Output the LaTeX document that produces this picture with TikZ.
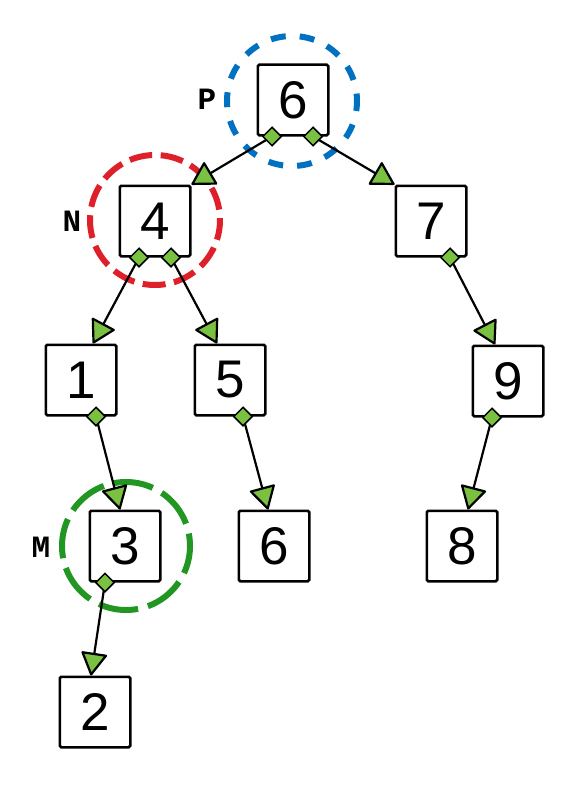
\documentclass[tikz,border=0pt]{standalone}
\usepackage{fontspec}
\setmainfont{Liberation Sans}
\newfontfamily\tagfont{Liberation Mono}
\usetikzlibrary{arrows.meta,calc}

\definecolor{leaf}{RGB}{122,193,66}
\definecolor{ringblue}{RGB}{0,112,192}
\definecolor{ringred}{RGB}{222,32,42}
\definecolor{ringgreen}{RGB}{34,150,34}

\tikzset{
  keybox/.style={draw, fill=white, line width=2.5pt, rounded corners=1.5pt,
    minimum width=70.5pt, minimum height=70.5pt, inner sep=0pt,
    font=\fontsize{53}{53}\selectfont},
  knob/.style={draw, fill=leaf, line width=1.5pt, rectangle, rotate=45,
    minimum size=13pt, inner sep=0pt},
  link/.style={line width=2.2pt, line cap=round,
    -{Triangle[length=24pt,width=27pt,fill=leaf,round]}},
  tag/.style={font=\tagfont\bfseries\fontsize{31}{31}\selectfont, inner sep=0pt},
  ring/.style={line width=6pt},
}

\begin{document}
\begin{tikzpicture}[x=1pt,y=-1pt]
\useasboundingbox (0,0) rectangle (571,789);

% highlight rings
\draw[ring, ringblue, dash pattern=on 15pt off 14pt, dash phase=5pt] (292,101) circle[radius=65];
\draw[ring, ringred, dash pattern=on 23pt off 8.5pt, dash phase=3pt] (155,220) circle[radius=65];
\draw[ring, ringgreen, dash pattern=on 40pt off 10.2pt, dash phase=12pt] (126,546) circle[radius=64];

% tree keys
\node[keybox] (r6) at (293,100) {6};
\node[keybox] (n4) at (155,221) {4};
\node[keybox] (n7) at (431,221) {7};
\node[keybox] (n1) at (81,380) {1};
\node[keybox] (n5) at (230,380) {5};
\node[keybox] (n9) at (508,381) {9};
\node[keybox] (n3) at (125,546) {3};
\node[keybox] (n6b) at (274,546) {6};
\node[keybox] (n8) at (462,546) {8};
\node[keybox] (n2) at (95,712) {2};

% pointer labels
\node[tag] (lp) at (207,99) {P};
\node[tag] (ln) at (72,221) {N};
\node[tag] (lm) at (41,547) {M};

% child pointer sockets
\coordinate (r6l) at ($(r6.south)+(-21,0)$);
\coordinate (r6r) at ($(r6.south)+(20,0)$);
\coordinate (n4l) at ($(n4.south)+(-16,0)$);
\coordinate (n4r) at ($(n4.south)+(16,0)$);
\coordinate (n7r) at ($(n7.south)+(19,0)$);
\coordinate (n1r) at ($(n1.south)+(15,0)$);
\coordinate (n5r) at ($(n5.south)+(13,0)$);
\coordinate (n9l) at ($(n9.south)+(-16,0)$);
\coordinate (n3l) at ($(n3.south)+(-20,0)$);

% arrow targets on the children
\coordinate (n4in) at (n4.north east);
\coordinate (n7in) at (n7.north west);
\coordinate (n1in) at ($(n1.north)+(12,0)$);
\coordinate (n5in) at ($(n5.north)+(-13,0)$);
\coordinate (n9in) at ($(n9.north)+(-13,0)$);
\coordinate (n3in) at ($(n3.north)+(-5,0)$);
\coordinate (n6bin) at ($(n6b.north)+(-6,0)$);
\coordinate (n8in) at ($(n8.north)+(6,0)$);
\coordinate (n2in) at ($(n2.north)+(-4,0)$);

% edges
\draw[link] (r6l) -- (n4in);
\draw[link] (r6r) -- (n7in);
\draw[link] (n4l) -- (n1in);
\draw[link] (n4r) -- (n5in);
\draw[link] (n7r) -- (n9in);
\draw[link] (n1r) -- (n3in);
\draw[link] (n5r) -- (n6bin);
\draw[link] (n9l) -- (n8in);
\draw[link] (n3l) -- (n2in);

% sockets drawn over the edge starts
\foreach \s in {r6l,r6r,n4l,n4r,n7r,n1r,n5r,n9l,n3l}
  \node[knob] at (\s) {};
\end{tikzpicture}
\end{document}
